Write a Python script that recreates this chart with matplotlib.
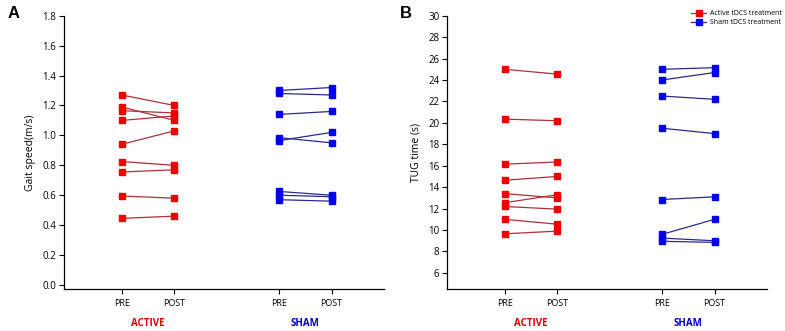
import numpy as np
import matplotlib.pyplot as plt
from matplotlib.lines import Line2D

plt.rcParams['font.family'] = ['Open Sans', 'DejaVu Sans']

# x positions of the PRE / POST ticks for each group
groups = ["ACTIVE", "SHAM"]
phases = ["PRE", "POST"]
group_colors = ["#dd0000", "#0000cc"]
marker_colors = ["#ee0000", "#0000ee"]
line_colors = ["#b03038", "#2a2a8c"]

# Panel A: gait speed (m/s)
gait_active_pre = [1.27, 1.19, 1.165, 1.10, 0.94, 0.825, 0.755, 0.595, 0.445]
gait_active_post = [1.20, 1.10, 1.15, 1.13, 1.03, 0.80, 0.77, 0.58, 0.46]
gait_sham_pre = [1.30, 1.28, 1.14, 0.965, 0.985, 0.625, 0.60, 0.57]
gait_sham_post = [1.32, 1.27, 1.16, 1.02, 0.95, 0.60, 0.59, 0.56]

# Panel B: TUG time (s)
tug_active_pre = [25.0, 20.35, 16.15, 14.65, 13.4, 12.55, 12.2, 11.0, 9.65]
tug_active_post = [24.55, 20.2, 16.35, 15.0, 13.0, 13.3, 11.95, 10.55, 9.9]
tug_sham_pre = [25.0, 24.0, 22.5, 19.5, 12.85, 9.6, 9.25, 8.95]
tug_sham_post = [25.15, 24.7, 22.2, 19.0, 13.1, 11.0, 9.0, 8.85]

fig = plt.figure(figsize=(7.85, 3.31), dpi=100)
axA = fig.add_axes([64/785, 1 - 289/331, 320/785, (289 - 15.7)/331])
axB = fig.add_axes([447/785, 1 - 289/331, 320/785, (289 - 15.7)/331])

xpos = [(1, 2), (4, 5)]


def draw_panel(ax, data, ylim, yticks, ylabel, fmt):
    for gi, (pre, post) in enumerate(data):
        x0, x1 = xpos[gi]
        for a, b in zip(pre, post):
            ax.plot([x0, x1], [a, b], color=line_colors[gi], lw=0.9, zorder=2)
        ax.plot([x0] * len(pre), pre, 's', ms=4.6, color=marker_colors[gi],
                mec=marker_colors[gi], lw=0, zorder=3)
        ax.plot([x1] * len(post), post, 's', ms=4.6, color=marker_colors[gi],
                mec=marker_colors[gi], lw=0, zorder=3)
        ax.text((x0 + x1) / 2, -0.105, groups[gi], transform=ax.get_xaxis_transform(),
                ha='center', va='top', fontsize=7, fontweight='bold',
                color=group_colors[gi])
    ax.set_xlim(-0.1, 6.0)
    ax.set_ylim(*ylim)
    ax.set_yticks(yticks)
    ax.set_yticklabels([fmt.format(v) for v in yticks], fontsize=7)
    ax.set_xticks([1, 2, 4, 5])
    ax.set_xticklabels(phases * 2, fontsize=6.5)
    ax.set_ylabel(ylabel, fontsize=7.5)
    ax.spines['top'].set_visible(False)
    ax.spines['right'].set_visible(False)
    ax.spines['left'].set_bounds(ylim[0], yticks[-1])
    ax.tick_params(direction='out', length=3.5, width=0.8, pad=2)
    ax.tick_params(axis='x', pad=4)
    for s in ['left', 'bottom']:
        ax.spines[s].set_linewidth(0.9)


draw_panel(axA, [(gait_active_pre, gait_active_post), (gait_sham_pre, gait_sham_post)],
           (-0.027, 1.8), np.round(np.arange(0, 1.81, 0.2), 1), "Gait speed(m/s)", "{:.1f}")
draw_panel(axB, [(tug_active_pre, tug_active_post), (tug_sham_pre, tug_sham_post)],
           (4.5, 30), list(range(6, 31, 2)), "TUG time (s)", "{:d}")

axA.yaxis.labelpad = 5
axB.yaxis.labelpad = 5

fig.text(8/785, 1 - 14/331, "A", fontsize=12, fontweight='bold',
         family=['Liberation Sans', 'DejaVu Sans'], va='center', ha='left')
fig.text(400/785, 1 - 14/331, "B", fontsize=12, fontweight='bold',
         family=['Liberation Sans', 'DejaVu Sans'], va='center', ha='left')

handles = [Line2D([], [], color=line_colors[i], lw=0.9, marker='s', ms=4,
                  mfc=marker_colors[i], mec=marker_colors[i]) for i in range(2)]
fig.legend(handles, ["Active tDCS treatment", "Sham tDCS treatment"],
           loc='upper right', bbox_to_anchor=(788/785, 1 - 4/331), fontsize=5,
           frameon=False, handlelength=2.2, handletextpad=0.5, labelspacing=0.25)

fig.savefig("out.png", dpi=100)
